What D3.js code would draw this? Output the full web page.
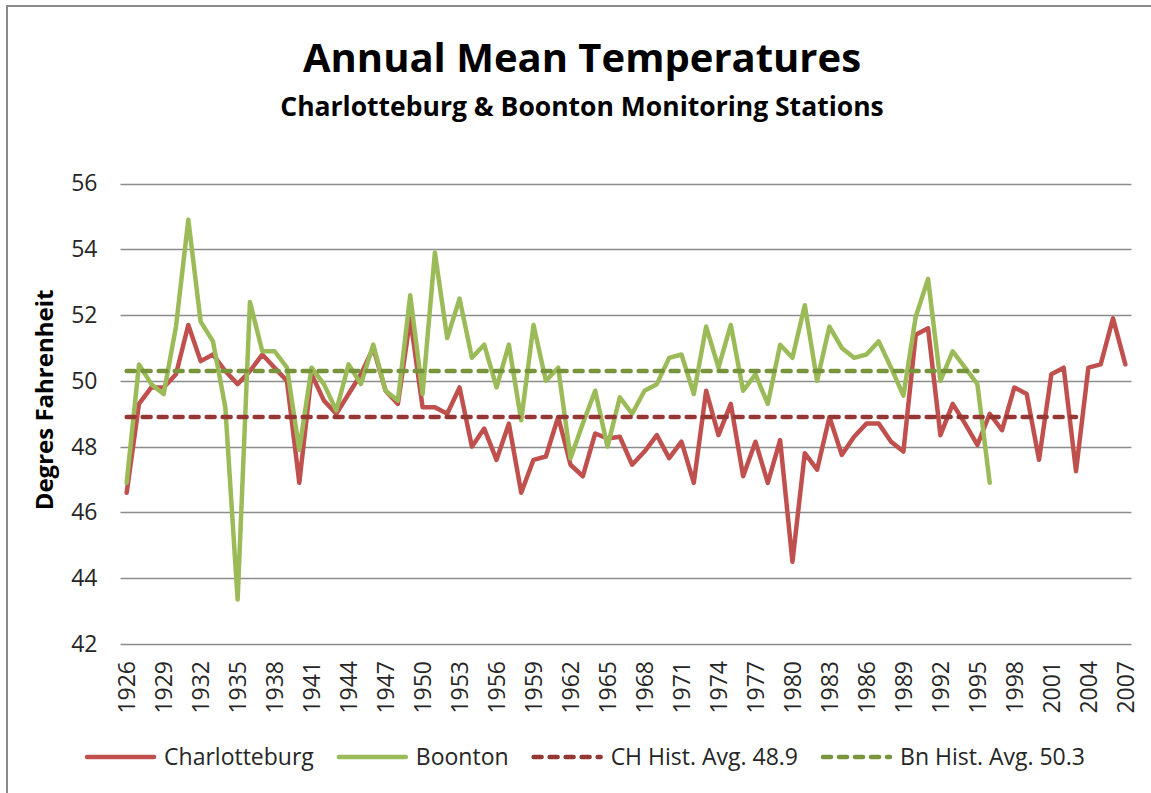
<!DOCTYPE html>
<html>
<head>
<meta charset="utf-8">
<script src="https://cdn.jsdelivr.net/npm/d3@7/dist/d3.min.js"></script>
<style>
  html, body { margin: 0; padding: 0; background: #fff; }
  svg { display: block; font-family: "Open Sans", sans-serif; }
</style>
</head>
<body>
<svg id="chart" width="1151" height="793"></svg>
<script>
// ---- DATA ----
const years = [1926,1927,1928,1929,1930,1931,1932,1933,1934,1935,1936,1937,1938,1939,1940,1941,1942,1943,1944,1945,1946,1947,1948,1949,1950,1951,1952,1953,1954,1955,1956,1957,1958,1959,1960,1961,1962,1963,1964,1965,1966,1967,1968,1969,1970,1971,1972,1973,1974,1975,1976,1977,1978,1979,1980,1981,1982,1983,1984,1985,1986,1987,1988,1989,1990,1991,1992,1993,1994,1995,1996,1997,1998,1999,2000,2001,2002,2003,2004,2005,2006,2007];

const charlotteburg = [46.6,49.3,49.8,49.8,50.2,51.7,50.6,50.8,50.3,49.9,
  50.3,50.8,50.4,50.0,46.9,50.2,49.4,49.0,49.6,50.2,
  51.0,49.7,49.3,51.9,49.2,49.2,49.0,49.8,48.0,48.55,
  47.6,48.7,46.6,47.6,47.7,48.9,47.45,47.1,48.4,48.25,
  48.3,47.45,47.85,48.35,47.65,48.15,46.9,49.7,48.35,49.3,
  47.1,48.15,46.9,48.2,44.5,47.8,47.3,48.9,47.75,48.3,
  48.7,48.7,48.15,47.85,51.4,51.6,48.35,49.3,48.7,48.05,
  49.0,48.5,49.8,49.6,47.6,50.2,50.4,47.25,50.4,50.5,51.9,50.5];

// Boonton: 1926-1996
const boonton = [46.9,50.5,49.9,49.6,51.65,54.9,51.8,51.2,49.2,43.35,
  52.4,50.9,50.9,50.4,47.9,50.4,49.9,49.1,50.5,49.9,
  51.1,49.7,49.4,52.6,49.6,53.9,51.3,52.5,50.7,51.1,
  49.8,51.1,48.8,51.7,50.0,50.4,47.65,48.7,49.7,48.0,
  49.5,49.0,49.7,49.9,50.7,50.8,49.6,51.65,50.4,51.7,
  49.7,50.2,49.3,51.1,50.7,52.3,50.0,51.65,51.0,50.7,
  50.8,51.2,50.4,49.55,51.95,53.1,50.0,50.9,50.4,49.9,
  46.9];

const chAvg = 48.9, chAvgLastYear = 2003;
const bnAvg = 50.3, bnAvgLastYear = 1995;

const yTicks = [42,44,46,48,50,52,54,56];
const xTickYears = years.filter((y, i) => i % 3 === 0);

const titleText = "Annual Mean Temperatures";
const subtitleText = "Charlotteburg & Boonton Monitoring Stations";
const yLabelText = "Degres Fahrenheit";
const legendLabels = ["Charlotteburg", "Boonton", "CH Hist. Avg. 48.9", "Bn Hist. Avg. 50.3"];

// ---- STYLE ----
const colRed = "#C0504D", colGreen = "#9BBB59", colRedDash = "#953735", colGreenDash = "#77933C";
const textCol = "#262626";
const dashPattern = "8,8";

const svg = d3.select("#chart");

// outer frame
svg.append("rect").attr("x", 7).attr("y", 6).attr("width", 1170).attr("height", 820)
  .attr("fill", "none").attr("stroke", "#8a8a8a").attr("stroke-width", 2);

const plot = {left: 120.5, right: 1131.5, top: 183.5, bottom: 644};

const x = d3.scalePoint().domain(years).range([plot.left, plot.right]).padding(0.5);
const y = d3.scaleLinear().domain([42, 56]).range([plot.bottom, plot.top]);

// gridlines
svg.append("g").selectAll("line").data(yTicks).join("line")
  .attr("x1", plot.left).attr("x2", plot.right)
  .attr("y1", d => Math.round(y(d)) + 0.5).attr("y2", d => Math.round(y(d)) + 0.5)
  .attr("stroke", "#8c8c8c").attr("stroke-width", 1.4);

// y axis
const yAxis = svg.append("g").attr("transform", `translate(${plot.left},0)`)
  .call(d3.axisLeft(y).tickValues(yTicks).tickSize(0).tickPadding(23).tickFormat(d3.format("d")));
yAxis.select(".domain").remove();
yAxis.selectAll("text").attr("font-size", 23).attr("fill", textCol)
  .attr("font-family", "Open Sans, sans-serif");

// x axis
const xAxis = svg.append("g").attr("transform", `translate(0,${plot.bottom})`)
  .call(d3.axisBottom(x).tickValues(xTickYears).tickSize(0));
xAxis.select(".domain").remove();
xAxis.selectAll("text")
  .attr("font-size", 23).attr("fill", textCol).attr("font-family", "Open Sans, sans-serif")
  .attr("transform", "rotate(-90)")
  .attr("text-anchor", "end")
  .attr("x", -17).attr("y", 0).attr("dy", "0.36em");

const line = d3.line().x(d => x(d.year)).y(d => y(d.value));
const chAvgData = years.filter(yr => yr <= chAvgLastYear).map(yr => ({year: yr, value: chAvg}));
const bnAvgData = years.filter(yr => yr <= bnAvgLastYear).map(yr => ({year: yr, value: bnAvg}));

const chData = charlotteburg.map((v, i) => ({year: years[i], value: v}));
const bnData = boonton.map((v, i) => ({year: years[i], value: v}));

svg.append("path").datum(chData).attr("d", line)
  .attr("fill", "none").attr("stroke", colRed).attr("stroke-width", 4.5)
  .attr("stroke-linejoin", "round").attr("stroke-linecap", "round");
svg.append("path").datum(bnData).attr("d", line)
  .attr("fill", "none").attr("stroke", colGreen).attr("stroke-width", 4.5)
  .attr("stroke-linejoin", "round").attr("stroke-linecap", "round");

svg.append("path").datum(chAvgData).attr("d", line)
  .attr("fill", "none").attr("stroke", colRedDash).attr("stroke-width", 4.5)
  .attr("stroke-dasharray", dashPattern).attr("stroke-linecap", "round");
svg.append("path").datum(bnAvgData).attr("d", line)
  .attr("fill", "none").attr("stroke", colGreenDash).attr("stroke-width", 4.5)
  .attr("stroke-dasharray", dashPattern).attr("stroke-linecap", "round");

// titles
svg.append("text").attr("x", 582).attr("y", 72).attr("text-anchor", "middle")
  .attr("font-size", 40).attr("font-weight", "bold").attr("fill", "#000").text(titleText);
svg.append("text").attr("x", 582).attr("y", 116).attr("text-anchor", "middle")
  .attr("font-size", 26.5).attr("font-weight", "bold").attr("fill", "#000").text(subtitleText);

// y label
svg.append("text").attr("transform", "translate(53,400) rotate(-90)").attr("text-anchor", "middle")
  .attr("font-size", 24).attr("font-weight", "bold").attr("fill", "#000").text(yLabelText);

// legend
const legendItems = [
  {label: legendLabels[0], color: colRed, dash: null},
  {label: legendLabels[1], color: colGreen, dash: null},
  {label: legendLabels[2], color: colRedDash, dash: dashPattern},
  {label: legendLabels[3], color: colGreenDash, dash: dashPattern}
];
const legend = svg.append("g");
const lineLen = 71, gapText = 8, gapItem = 23, legendY = 757;
let cx = 0;
legendItems.forEach(it => {
  const g = legend.append("g").attr("transform", `translate(${cx},0)`);
  const ln = g.append("line").attr("x1", 2).attr("x2", lineLen - 2).attr("y1", legendY).attr("y2", legendY)
    .attr("stroke", it.color).attr("stroke-width", 4.5).attr("stroke-linecap", "round");
  if (it.dash) ln.attr("stroke-dasharray", it.dash);
  const t = g.append("text").attr("x", lineLen + gapText).attr("y", legendY + 8)
    .attr("font-size", 23).attr("fill", textCol).text(it.label);
  cx += lineLen + gapText + t.node().getComputedTextLength() + gapItem;
});
const totalW = cx - gapItem;
legend.attr("transform", `translate(${585 - totalW / 2},0)`);
</script>
</body>
</html>
